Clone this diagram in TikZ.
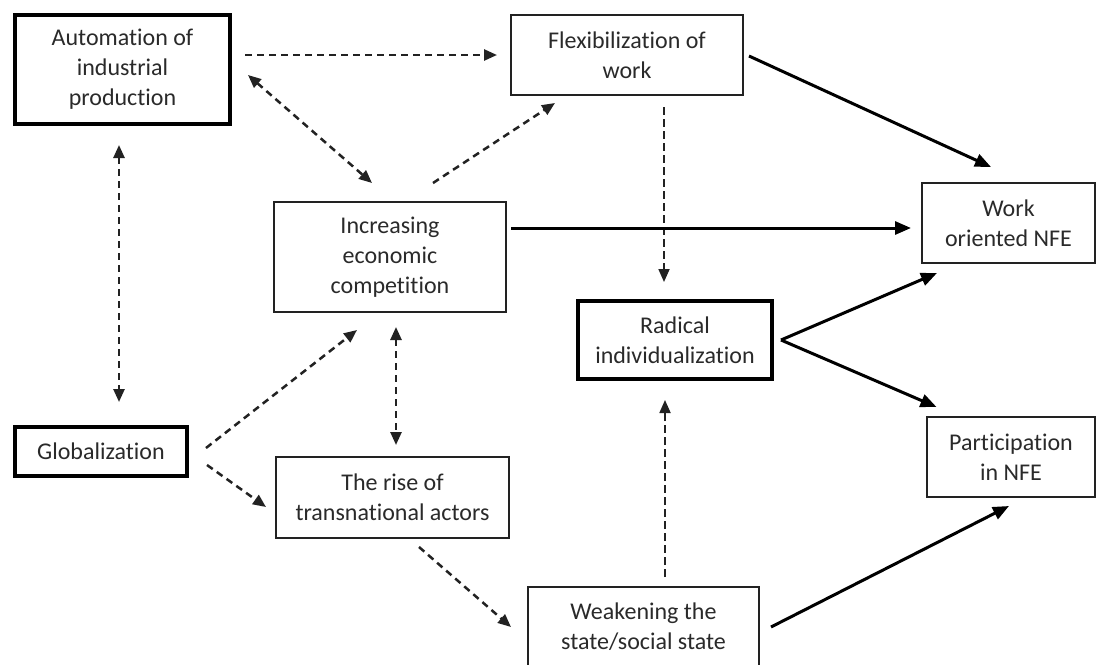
\documentclass[tikz,border=0pt]{standalone}
\usepackage{fontspec}
\setmainfont{Carlito}[Ligatures={NoCommon}]
\usetikzlibrary{arrows.meta,calc}
\definecolor{txt}{HTML}{2A2A2A}
\definecolor{ln}{HTML}{222222}
\begin{document}
\begin{tikzpicture}[x=1pt,y=-1pt,
  box/.style={draw=ln,line width=1.8pt,inner sep=0pt,outer sep=0pt,align=center,
    text=txt,font=\fontsize{24}{30}\selectfont,fill=white},
  thickbox/.style={box,draw=black,line width=4.2pt},
  solidarrow/.style={draw=black,line width=3pt,-{Triangle[length=16pt,width=13pt]}},
  dasharrow/.style={draw=ln,line width=2.5pt,dash pattern=on 7pt off 5pt,-{Triangle[length=13pt,width=11pt]}},
  dashboth/.style={dasharrow,{Triangle[length=13pt,width=11pt]}-{Triangle[length=13pt,width=11pt]}},
  thindash/.style={draw=ln,line width=1.8pt,dash pattern=on 8pt off 4pt,-{Triangle[length=13pt,width=11pt]}}]
\useasboundingbox (0,0) rectangle (1097,664);
\clip (0,0) rectangle (1097,664);
\fill[white] (0,0) rectangle (1097,664);

\node[thickbox,minimum width=215pt,minimum height=109pt] (auto) at (122.5,69.5) {Automation of\\industrial\\production};
\node[box,minimum width=232pt,minimum height=80pt] (flex) at (627,55) {Flexibilization of\\work};
\node[box,minimum width=173pt,minimum height=80pt] (work) at (1008.5,223) {Work\\oriented NFE};
\node[box,minimum width=232pt,minimum height=110pt] (inc) at (390,257) {Increasing\\economic\\competition};
\node[thickbox,minimum width=194pt,minimum height=78pt] (rad) at (675,340) {Radical\\individualization};
\node[thickbox,minimum width=172pt,minimum height=49pt] (glob) at (101,451.5) {Globalization};
\node[box,minimum width=233pt,minimum height=81pt] (trans) at (392.5,497.5) {The rise of\\transnational actors};
\node[box,minimum width=168pt,minimum height=80pt] (part) at (1011,457) {Participation\\in NFE};
\node[box,minimum width=231pt,minimum height=80pt] (weak) at (643.5,627) {Weakening the\\state/social state};

% dashed connectors
\draw[dasharrow] ($(auto.east)+(15,-14.5)$) -- ($(flex.west)+(-14,0)$);
\draw[dashboth] ($(auto.east)+(18,5.5)$) -- ($(inc.north)+(-18,-19)$);
\draw[dashboth] ($(auto.south)+(-3.5,21)$) -- ($(glob.north)+(18,-25)$);
\draw[dasharrow] ($(inc.north)+(43,-19)$) -- ($(flex.south)+(-72,8)$);
\draw[thindash] ($(flex.south)+(37,12)$) -- ($(rad.north)+(-11,-19)$);
\draw[dashboth] ($(inc.south)+(6,15)$) -- ($(trans.north)+(3.5,-12)$);
\draw[dasharrow] ($(glob.east)+(19,-3.5)$) -- ($(inc.south)+(-33,18)$);
\draw[dasharrow] ($(glob.east)+(20,13.5)$) -- ($(trans.west)+(-10,9.5)$);
\draw[dasharrow] ($(trans.south)+(26.5,9)$) -- ($(weak.west)+(-17,0)$);
\draw[thindash] ($(weak.north)+(21.5,-10)$) -- ($(rad.south)+(-10,21)$);

% solid connectors
\draw[solidarrow] ($(flex.east)+(6,1)$) -- ($(work.north)+(-17.5,-16)$);
\draw[solidarrow] ($(inc.east)+(5,-29)$) -- ($(work.west)+(-11,5)$);
\draw[solidarrow] ($(rad.east)+(9,0)$) -- ($(work.south)+(-71.5,10)$);
\draw[solidarrow] ($(rad.east)+(9,0)$) -- ($(part.north)+(-74.5,-10)$);
\draw[solidarrow] ($(weak.east)+(12,0)$) -- ($(part.south)+(-2,9)$);
\end{tikzpicture}
\end{document}
